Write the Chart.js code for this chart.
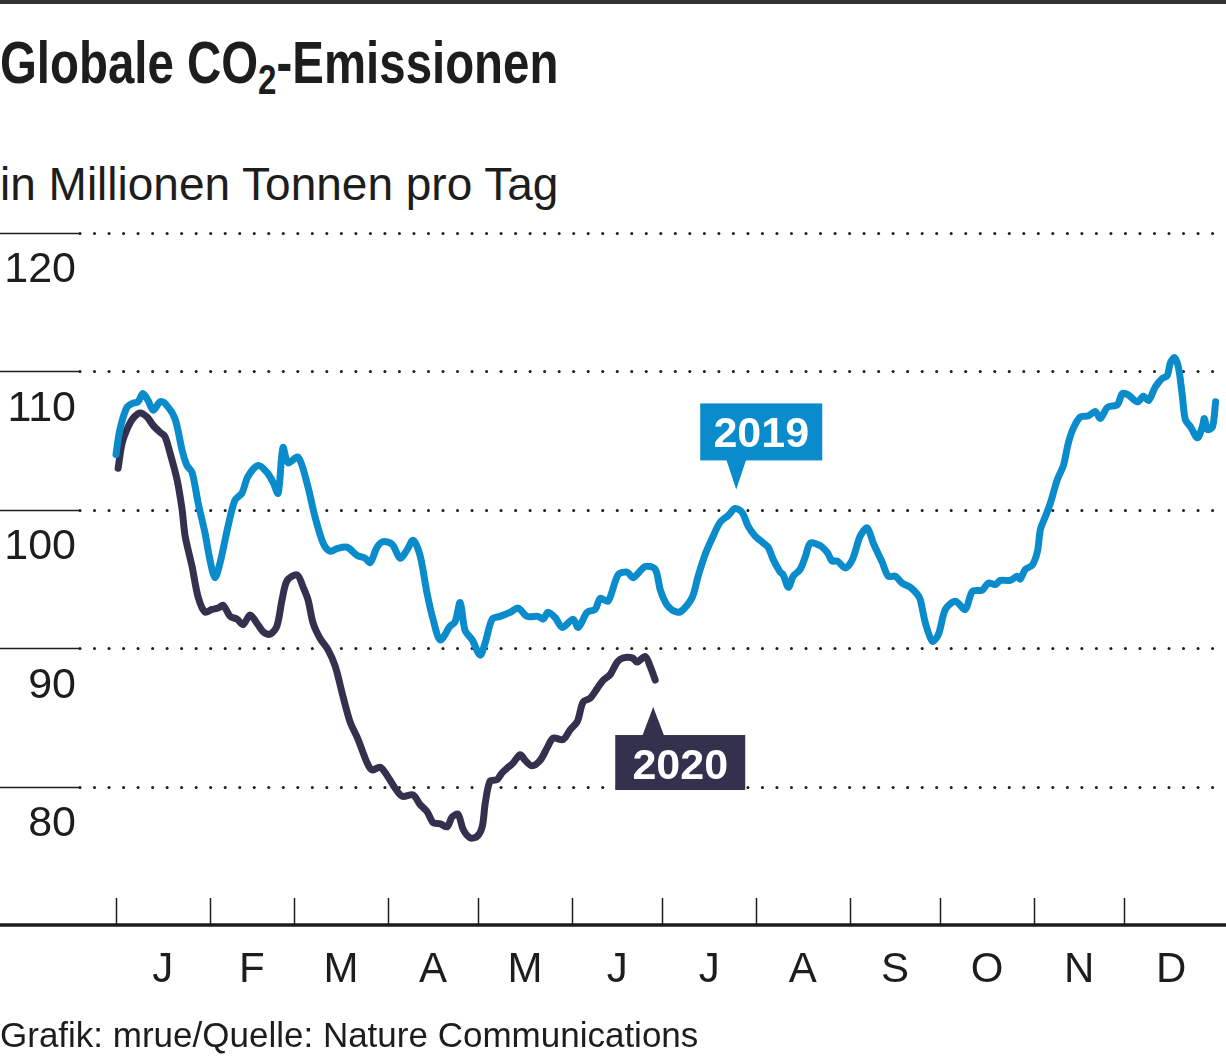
<!DOCTYPE html>
<html lang="de">
<head>
<meta charset="utf-8">
<title>Globale CO2-Emissionen</title>
<script src="https://cdn.jsdelivr.net/npm/chart.js@4.4.1/dist/chart.umd.min.js"></script>
<style>
    html, body { margin: 0; padding: 0; background: #fff; }
    body { width: 1226px; height: 1058px; position: relative; overflow: hidden;
           font-family: 'Liberation Sans', Arial, sans-serif; color: #1d1d1b; }
    .topline { position: absolute; left: 0; top: 0; width: 1226px; height: 4px; background: #333; }
    h1 { position: absolute; left: 0; top: 33px; margin: 0; font-size: 60px; line-height: 60px;
         font-family: 'Liberation Sans', Arial, sans-serif; font-weight: bold;
         white-space: nowrap; transform: scaleX(0.79); transform-origin: 0 0; }
    h1 sub { font-size: 0.7em; vertical-align: -0.25em; line-height: 0; }
    .sub { position: absolute; left: 0; top: 161px; font-size: 46px; line-height: 46px; white-space: nowrap; }
    .foot { position: absolute; left: 0; top: 1017px; font-size: 35px; line-height: 35px; white-space: nowrap; }
    canvas { position: absolute; left: 0; top: 0; }
</style>
</head>
<body>
<div class="topline"></div>
<h1>Globale CO<sub>2</sub>-Emissionen</h1>
<div class="sub">in Millionen Tonnen pro Tag</div>
<canvas id="co2Chart" width="1226" height="1058"></canvas>
<div class="foot">Grafik: mrue/Quelle: Nature Communications</div>

<script>
/* ---- data (day of year / Mio. t CO2 per day) ---- */
const monthLabels = ['J', 'F', 'M', 'A', 'M', 'J', 'J', 'A', 'S', 'O', 'N', 'D'];
const monthStarts = [0, 31, 59, 90, 120, 151, 181, 212, 243, 273, 304, 334, 365];
const yTicks = [80, 90, 100, 110, 120];

const days2019 = [0, 1.3, 3.6, 5.6, 7.3, 8.9, 10.6, 12.3, 14.6, 16.2, 19.5, 21.9, 23.5, 25.2, 27.2, 29.5, 31.1, 32.8, 34.5,
    37.1, 39.4, 41.7, 43.7, 47.1, 50.0, 52.0, 53.7, 55.3, 57.0, 60.3, 63.3, 65.9, 68.6, 70.9, 73.2, 76.5, 79.9, 82.5,
    84.2, 86.5, 88.5, 91.5, 94.1, 96.4, 98.4, 100.7, 103.0, 105.0, 107.4, 110.7, 112.3, 114.0, 115.6, 118.0, 120.6,
    122.3, 124.6, 127.2, 130.6, 133.2, 136.2, 139.8, 141.5, 143.1, 145.5, 147.8, 151.4, 153.1, 156.1, 158.7, 160.4,
    163.0, 166.3, 169.3, 171.3, 175.3, 178.6, 180.3, 182.6, 185.9, 187.9, 190.9, 192.8, 195.2, 197.8, 200.1, 202.8,
    205.1, 207.4, 209.4, 211.7, 214.4, 216.0, 217.7, 220.0, 221.0, 222.7, 224.3, 226.6, 228.3, 230.0, 233.3, 235.6,
    237.2, 238.9, 241.6, 243.9, 246.5, 248.8, 250.8, 253.8, 255.8, 258.1, 260.4, 263.1, 265.4, 266.4, 268.1, 270.4,
    272.4, 274.7, 278.0, 281.3, 283.6, 286.9, 288.9, 291.3, 292.9, 296.2, 298.5, 299.5, 301.2, 303.5, 305.2, 306.2,
    307.8, 309.5, 311.8, 313.8, 315.4, 317.1, 319.4, 322.1, 324.4, 326.0, 328.4, 331.7, 333.3, 335.3, 338.3, 340.3,
    342.0, 344.3, 346.6, 348.2, 349.2, 350.6, 351.9, 353.2, 354.2, 355.9, 358.2, 359.8, 360.5, 361.5, 363.2, 364.2];
const co2_2019 = [104.0, 105.8, 107.4, 107.7, 107.8, 108.4, 107.9, 107.2, 107.8, 107.7, 106.6, 104.3, 103.2, 102.7, 100.5,
    98.3, 96.4, 95.1, 96.2, 98.8, 100.7, 101.2, 102.4, 103.2, 102.7, 102.0, 101.2, 104.5, 103.4, 103.8, 101.9, 99.5,
    97.6, 97.0, 97.2, 97.3, 96.7, 96.5, 96.2, 97.3, 97.7, 97.5, 96.5, 97.1, 97.8, 96.7, 94.0, 92.1, 90.6, 91.6, 91.9,
    93.3, 91.3, 90.6, 89.5, 90.4, 92.1, 92.3, 92.6, 92.9, 92.3, 92.3, 92.1, 92.6, 92.2, 91.5, 92.1, 91.5, 92.6, 92.8,
    93.6, 93.4, 95.3, 95.5, 95.1, 95.9, 95.7, 94.2, 93.1, 92.6, 92.8, 93.7, 95.2, 96.8, 98.1, 99.1, 99.6, 100.1, 99.8,
    98.8, 98.1, 97.6, 97.3, 96.4, 95.5, 95.3, 94.4, 95.2, 95.7, 96.6, 97.6, 97.4, 96.9, 96.3, 96.3, 95.8, 96.4, 98.1,
    98.7, 97.6, 96.2, 95.2, 95.2, 94.7, 94.4, 93.9, 93.5, 91.8, 90.5, 91.0, 92.8, 93.4, 92.8, 94.1, 94.2, 94.7, 94.6,
    94.9, 94.9, 95.2, 95.0, 95.7, 96.0, 97.0, 98.6, 99.5, 100.5, 102.2, 103.2, 104.8, 105.9, 106.7, 106.8, 107.1,
    106.6, 107.4, 107.6, 108.4, 108.3, 107.8, 108.2, 107.9, 108.9, 109.5, 109.7, 110.6, 111.0, 110.3, 108.2, 106.5,
    106.0, 105.2, 106.0, 106.6, 105.8, 106.0, 107.8];

const days2020 = [0.7, 2.0, 3.6, 5.6, 8.0, 10.3, 12.3, 14.6, 16.2, 17.9, 20.2, 21.9, 22.9, 25.2, 27.2, 29.5, 31.8, 33.8,
    35.5, 37.8, 40.1, 42.1, 44.4, 46.7, 48.7, 51.0, 53.3, 55.0, 56.7, 60.0, 62.0, 63.6, 65.3, 67.6, 70.2, 72.6, 75.2,
    77.5, 80.2, 83.2, 84.8, 87.5, 90.1, 92.4, 94.8, 98.4, 100.7, 103.0, 105.0, 107.4, 109.7, 111.3, 113.3, 115.0,
    117.3, 119.6, 121.3, 122.3, 123.9, 126.2, 127.9, 129.9, 131.5, 133.9, 135.5, 137.8, 140.5, 142.8, 144.8, 148.1,
    150.4, 152.8, 154.7, 157.1, 159.4, 161.4, 163.7, 166.0, 168.0, 171.0, 172.6, 175.3, 176.9, 178.6];
const co2_2020 = [103.0, 104.8, 105.8, 106.6, 107.0, 106.7, 106.1, 105.6, 105.3, 104.1, 102.2, 100.0, 98.1, 95.9, 93.7,
    92.6, 92.8, 92.9, 93.1, 92.3, 92.1, 91.7, 92.4, 91.8, 91.2, 91.0, 91.6, 93.5, 94.9, 95.3, 94.4, 93.5, 91.8, 90.7,
    89.9, 88.7, 86.5, 84.7, 83.4, 81.7, 81.2, 81.4, 80.7, 79.9, 79.3, 79.4, 78.7, 78.2, 77.4, 77.3, 77.1, 77.8, 78.0,
    76.9, 76.3, 76.4, 77.1, 78.8, 80.4, 80.5, 81.0, 81.4, 81.7, 82.3, 81.9, 81.5, 81.9, 82.8, 83.5, 83.4, 84.1, 84.7,
    86.1, 86.4, 87.1, 87.7, 88.1, 89.0, 89.3, 89.3, 89.0, 89.4, 88.7, 87.7];

const BLUE = '#0a8bcb';
const NAVY = '#34314f';
const INK = '#1d1d1b';
const FONT = "'Liberation Sans', Arial, sans-serif";

/* grid, axis line, month ticks and the two year callouts */
const overlay = {
    id: 'overlay',
    beforeDatasetsDraw(chart) {
        const c = chart.ctx;
        const y = chart.scales.y, x = chart.scales.x;
        c.save();
        yTicks.forEach(v => {
            const py = Math.round(y.getPixelForValue(v)) + 0.5;
            c.strokeStyle = INK; c.lineWidth = 1.6;
            c.beginPath(); c.moveTo(0, py); c.lineTo(79, py); c.stroke();
            c.fillStyle = INK;
            for (let dx = 80; dx <= 1213; dx += 14.52) {
                c.beginPath(); c.arc(dx, py, 1.5, 0, Math.PI * 2); c.fill();
            }
        });
        const base = y.getPixelForValue(70);
        c.strokeStyle = INK; c.lineWidth = 1.5;
        monthStarts.slice(0, 12).forEach(d => {
            const px = Math.round(x.getPixelForValue(d)) + 0.5;
            c.beginPath(); c.moveTo(px, base - 27); c.lineTo(px, base); c.stroke();
        });
        c.lineWidth = 3.5;
        c.beginPath(); c.moveTo(0, base); c.lineTo(1226, base); c.stroke();
        c.restore();
    },
    afterDatasetsDraw(chart) {
        const c = chart.ctx;
        const m19 = chart.getDatasetMeta(0).data;
        const m20 = chart.getDatasetMeta(1).data;

        // 2019: peak of the summer months
        let pk = -1;
        days2019.forEach((d, i) => {
            if (d > 181 && d < 243 && (pk < 0 || co2_2019[i] > co2_2019[pk])) pk = i;
        });
        const p19 = m19[pk];
        const p20 = m20[m20.length - 1];

        c.save();
        c.font = 'bold 43px ' + FONT;
        c.textAlign = 'center'; c.textBaseline = 'alphabetic';

        // 2019 box above
        let tx = p19.x + 1, ty = p19.y - 19;
        c.fillStyle = BLUE;
        c.beginPath(); c.moveTo(tx, ty); c.lineTo(tx - 10, ty - 30); c.lineTo(tx + 10, ty - 30); c.closePath(); c.fill();
        c.fillRect(tx - 36, ty - 86, 122, 57);
        c.fillStyle = '#fff';
        c.fillText('2019', tx + 25, ty - 42);

        // 2020 box below
        tx = p20.x - 2; ty = p20.y + 27;
        c.fillStyle = NAVY;
        c.beginPath(); c.moveTo(tx, ty); c.lineTo(tx - 11, ty + 29); c.lineTo(tx + 11, ty + 29); c.closePath(); c.fill();
        c.fillRect(tx - 38, ty + 28, 130, 55);
        c.fillStyle = '#fff';
        c.fillText('2020', tx + 27, ty + 72);
        c.restore();
    }
};

const ctx = document.getElementById('co2Chart');
new Chart(ctx, {
    type: 'line',
    data: {
        datasets: [
            { label: '2019', data: days2019.map((d, i) => ({ x: d, y: co2_2019[i] })),
              borderColor: BLUE, borderWidth: 7, pointRadius: 0, tension: 0.3,
              borderCapStyle: 'round', borderJoinStyle: 'round' },
            { label: '2020', data: days2020.map((d, i) => ({ x: d, y: co2_2020[i] })),
              borderColor: NAVY, borderWidth: 7, pointRadius: 0, tension: 0.3,
              borderCapStyle: 'round', borderJoinStyle: 'round' }
        ]
    },
    options: {
        responsive: false, animation: false, clip: false,
        layout: { padding: { top: 233, right: 8, left: 0, bottom: 0 } },
        plugins: { legend: { display: false }, tooltip: { enabled: false } },
        scales: {
            x: {
                type: 'linear', min: 0, max: 365,
                grid: { display: false, drawTicks: false }, border: { display: false },
                afterBuildTicks: s => {
                    s.ticks = monthLabels.map((m, i) => ({ value: (monthStarts[i] + monthStarts[i + 1]) / 2 }));
                },
                afterFit: s => { s.height = 133; },
                ticks: { autoSkip: false, maxRotation: 0, padding: 24, color: INK,
                         font: { family: FONT, size: 42, lineHeight: 1 },
                         callback: (v, i) => monthLabels[i] }
            },
            y: {
                min: 70, max: 120,
                grid: { display: false, drawTicks: false }, border: { display: false },
                afterBuildTicks: s => { s.ticks = yTicks.map(v => ({ value: v })); },
                afterFit: s => { s.width = 116; },
                ticks: { padding: 40, labelOffset: 37.5, color: INK,
                         font: { family: FONT, size: 43, lineHeight: 1 } }
            }
        }
    },
    plugins: [overlay]
});
</script>
</body>
</html>
